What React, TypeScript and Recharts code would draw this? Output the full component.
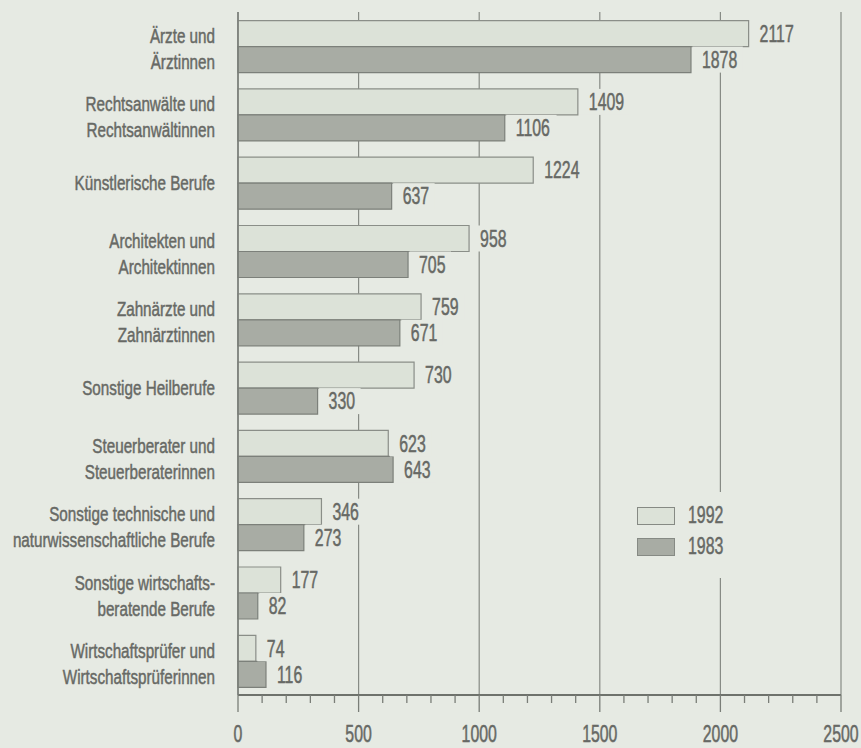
import React from 'react';
import { BarChart, Bar, XAxis, YAxis, CartesianGrid, Legend, LabelList } from 'recharts';

const categories = [
  'Ärzte und\nÄrztinnen',
  'Rechtsanwälte und\nRechtsanwältinnen',
  'Künstlerische Berufe',
  'Architekten und\nArchitektinnen',
  'Zahnärzte und\nZahnärztinnen',
  'Sonstige Heilberufe',
  'Steuerberater und\nSteuerberaterinnen',
  'Sonstige technische und\nnaturwissenschaftliche Berufe',
  'Sonstige wirtschafts-\nberatende Berufe',
  'Wirtschaftsprüfer und\nWirtschaftsprüferinnen',
];
const values1992 = [2117, 1409, 1224, 958, 759, 730, 623, 346, 177, 74];
const values1983 = [1878, 1106, 637, 705, 671, 330, 643, 273, 82, 116];
const seriesNames = ['1992', '1983'];
const majorTicks = [0, 500, 1000, 1500, 2000, 2500];
const allTicks = [
  0, 100, 200, 300, 400, 500, 600, 700, 800, 900, 1000, 1100, 1200,
  1300, 1400, 1500, 1600, 1700, 1800, 1900, 2000, 2100, 2200, 2300, 2400, 2500,
];

const BG = '#e6eae3';
const LIGHT = '#dce2d8';
const DARK = '#a8aca4';
const TEXT = '#676965';
const GRID = '#878b85';
const FONT = '"Liberation Sans", Arial, sans-serif';
const CAT_FS = 21;
const SX = 0.725; // squeeze text to mimic a condensed face
const NUM_FS = 23;
const SX_NUM = 0.69;
const STROKE_W = 0.5;

const fills: Record<string, string> = { '1992': LIGHT, '1983': DARK };

const data = categories.map((name, i) => ({
  name,
  y1992: values1992[i],
  y1983: values1983[i],
}));

const YTick = ({ x, y, payload }: any) => {
  const lines = String(payload.value).split('\n');
  const offs = lines.length === 1 ? [7] : [-3, 23];
  return (
    <g>
      {lines.map((l, i) => (
        <g key={i} transform={`translate(${x},${y + offs[i]}) scale(${SX},1)`}>
          <text x={0} y={0} textAnchor="end" fontSize={CAT_FS} fontFamily={FONT} fill={TEXT} stroke={TEXT} strokeWidth={STROKE_W}>
            {l}
          </text>
        </g>
      ))}
    </g>
  );
};

const XTick = ({ x, y, payload }: any) => {
  const major = majorTicks.includes(payload.value);
  return (
    <g>
      <line x1={x} x2={x} y1={y} y2={y + (major ? 17 : 8)} stroke="#7a7e78" strokeWidth={1.3} />
      {major && (
        <g transform={`translate(${x},${y + 47}) scale(${SX_NUM},1)`}>
          <text x={0} y={0} textAnchor="middle" fontSize={NUM_FS} fontFamily={FONT} fill={TEXT} stroke={TEXT} strokeWidth={STROKE_W}>
            {payload.value}
          </text>
        </g>
      )}
    </g>
  );
};

const ValueLabel = (props: any) => {
  const { x, y, width, height, value } = props;
  const tx = x + width + 11;
  const tw = String(value).length * 0.556 * NUM_FS * SX_NUM;
  return (
    <g>
      <rect x={x + width + 1.5} y={y} width={tw + 15} height={height} fill={BG} />
      <g transform={`translate(${tx},${y + height / 2 + 0.358 * NUM_FS}) scale(${SX_NUM},1)`}>
        <text x={0} y={0} fontSize={NUM_FS} fontFamily={FONT} fill={TEXT} stroke={TEXT} strokeWidth={STROKE_W}>
          {value}
        </text>
      </g>
    </g>
  );
};

const LegendContent = ({ payload }: any) => {
  const items = [...(payload || [])].sort(
    (a: any, b: any) => seriesNames.indexOf(String(a.value)) - seriesNames.indexOf(String(b.value)),
  );
  return (
    <div style={{ background: BG, padding: '8px 9px 16px 9px' }}>
      {items.map((e: any) => (
        <div key={e.value} style={{ display: 'flex', alignItems: 'center', height: 31 }}>
          <span
            style={{
              display: 'inline-block',
              width: 50,
              height: 16,
              background: fills[e.value],
              border: '1.5px solid #868a84',
            }}
          />
          <span
            style={{
              display: 'inline-block',
              marginLeft: 13,
              fontFamily: FONT,
              fontSize: NUM_FS,
              color: TEXT,
              WebkitTextStroke: `${STROKE_W}px ${TEXT}`,
              transform: `scaleX(${SX_NUM})`,
              transformOrigin: 'left center',
            }}
          >
            {e.value}
          </span>
        </div>
      ))}
    </div>
  );
};

export default function App() {
  return (
    <div style={{ position: 'absolute', left: 0, top: 0, width: 861, height: 748, background: BG }}>
      <BarChart
        width={861}
        height={748}
        data={data}
        layout="vertical"
        margin={{ top: 12, right: 20, bottom: 0, left: 0 }}
        barCategoryGap="12.6%"
        barGap={0}
      >
        <CartesianGrid horizontal={false} verticalValues={majorTicks} stroke={GRID} strokeWidth={1.2} />
        <XAxis
          type="number"
          domain={[0, 2500]}
          ticks={allTicks}
          interval={0}
          tickSize={0}
          tickMargin={0}
          tickLine={false}
          axisLine={{ stroke: '#6e726c', strokeWidth: 2 }}
          height={53}
          tick={<XTick />}
        />
        <YAxis
          type="category"
          dataKey="name"
          width={238}
          tickSize={0}
          tickMargin={23}
          tickLine={false}
          interval={0}
          axisLine={{ stroke: '#7a7e78', strokeWidth: 1.5 }}
          tick={<YTick />}
        />
        <Legend
          layout="vertical"
          align="center"
          verticalAlign="middle"
          wrapperStyle={{ left: 628, top: 492, width: 120 }}
          content={<LegendContent />}
        />
        <Bar dataKey="y1992" name="1992" fill={LIGHT} stroke="#8a8e88" strokeWidth={1.2} isAnimationActive={false}>
          <LabelList dataKey="y1992" content={(p: any) => <ValueLabel {...p} />} />
        </Bar>
        <Bar dataKey="y1983" name="1983" fill={DARK} stroke="#7c807a" strokeWidth={1.2} isAnimationActive={false}>
          <LabelList dataKey="y1983" content={(p: any) => <ValueLabel {...p} />} />
        </Bar>
      </BarChart>
    </div>
  );
}
